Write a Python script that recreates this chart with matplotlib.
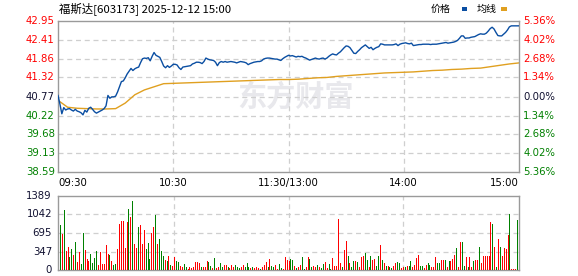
import matplotlib
matplotlib.use("Agg")
import matplotlib.pyplot as plt
from matplotlib.patches import Rectangle

plt.rcParams['font.family'] = ['DejaVu Sans', 'Noto Sans CJK SC']

# ---------------- data ----------------
title = "福斯达[603173] 2025-12-12 15:00"
prev_close = 40.77
price_ticks = [38.59, 39.13, 39.68, 40.22, 40.77, 41.32, 41.86, 42.41, 42.95]
pct_labels = ["5.36%", "4.02%", "2.68%", "1.34%", "0.00%", "1.34%", "2.68%", "4.02%", "5.36%"]
vol_ticks = [0, 347, 695, 1042, 1389]
time_labels = ["09:30", "10:30", "11:30/13:00", "14:00", "15:00"]
time_pos = [0, 60, 120, 180, 240]

price = [
    40.80, 40.55, 40.27, 40.45, 40.38, 40.41, 40.42, 40.38, 40.35, 40.40,
    40.35, 40.33, 40.30, 40.24, 40.37, 40.32, 40.43, 40.46, 40.40, 40.33,
    40.29, 40.32, 40.35, 40.38, 40.42, 40.50, 40.80, 40.72, 40.76, 40.76,
    40.78, 40.90, 41.05, 41.20, 41.22, 41.31, 41.42, 41.50, 41.58, 41.52,
    41.57, 41.60, 41.62, 41.75, 41.86, 41.88, 41.87, 41.89, 41.80, 41.93,
    42.04, 41.96, 41.93, 41.90, 41.78, 41.65, 41.60, 41.66, 41.61, 41.65,
    41.70, 41.70, 41.68, 41.60, 41.55, 41.62, 41.63, 41.64, 41.65, 41.66,
    41.71, 41.73, 41.76, 41.76, 41.75, 41.72, 41.78, 41.88, 41.85, 41.83,
    41.82, 41.81, 41.76, 41.66, 41.75, 41.78, 41.76, 41.78, 41.76, 41.77,
    41.78, 41.77, 41.76, 41.74, 41.76, 41.78, 41.77, 41.76, 41.74, 41.69,
    41.72, 41.74, 41.76, 41.77, 41.78, 41.78, 41.80, 41.85, 41.87, 41.88,
    41.88, 41.87, 41.86, 41.85, 41.85, 41.83, 41.81, 41.86, 41.90, 41.93,
    41.96, 41.94, 41.95, 41.93, 41.91, 41.93, 41.92, 41.93, 41.90, 41.88,
    41.85, 41.82, 41.84, 41.86, 41.88, 41.86, 41.85, 41.87, 41.88, 41.85,
    41.88, 41.93, 41.97, 42.00, 41.98, 41.97, 42.02, 42.06, 42.12, 42.18,
    42.23, 42.22, 42.18, 42.10, 42.02, 42.01, 42.07, 42.12, 42.18, 42.22,
    42.26, 42.21, 42.16, 42.19, 42.12, 42.16, 42.19, 42.21, 42.29, 42.28,
    42.26, 42.26, 42.26, 42.26, 42.26, 42.27, 42.29, 42.24, 42.28, 42.30,
    42.31, 42.32, 42.30, 42.29, 42.31, 42.24, 42.25, 42.26, 42.27, 42.27,
    42.28, 42.28, 42.28, 42.28, 42.27, 42.28, 42.28, 42.28, 42.29, 42.30,
    42.31, 42.32, 42.33, 42.31, 42.32, 42.33, 42.34, 42.36, 42.39, 42.45,
    42.52, 42.52, 42.45, 42.46, 42.46, 42.48, 42.49, 42.50, 42.53, 42.56,
    42.58, 42.57, 42.57, 42.60, 42.66, 42.73, 42.77, 42.72, 42.62, 42.53,
    42.52, 42.52, 42.57, 42.62, 42.69, 42.78, 42.81, 42.81, 42.81, 42.81,
    42.81,
]

# average price, sampled every 5 minutes
avg_minutes = list(range(0, 241, 5))
avg_price = [
    40.66, 40.46, 40.43, 40.42, 40.41, 40.41, 40.42, 40.58, 40.82, 40.96,
    41.05, 41.14, 41.15, 41.16, 41.17, 41.18, 41.19, 41.20, 41.21, 41.22,
    41.23, 41.24, 41.25, 41.26, 41.26, 41.27, 41.29, 41.31, 41.32, 41.35,
    41.37, 41.39, 41.41, 41.43, 41.45, 41.46, 41.47, 41.48, 41.50, 41.52,
    41.53, 41.55, 41.56, 41.58, 41.59, 41.63, 41.67, 41.71, 41.74,
]

volume = [
    845, 676, 1126, 363, 432, 244, 394, 282, 526, 150,
    338, 113, 695, 375, 206, 169, 300, 131, 225, 363,
    94, 338, 113, 113, 469, 300, 282, 169, 94, 113,
    394, 863, 920, 920, 413, 901, 1145, 995, 1290, 488,
    413, 807, 845, 488, 751, 394, 507, 206, 695, 807,
    1032, 488, 582, 357, 263, 188, 169, 263, 94, 75,
    244, 169, 150, 75, 56, 113, 56, 19, 56, 38,
    56, 150, 150, 131, 56, 56, 56, 169, 150, 75,
    38, 233, 40, 52, 130, 52, 97, 97, 52, 40,
    97, 52, 97, 52, 40, 52, 97, 52, 130, 52,
    32, 52, 32, 52, 40, 13, 52, 97, 142, 52,
    213, 78, 52, 97, 13, 116, 30, 13, 245, 194,
    168, 207, 194, 78, 30, 52, 97, 245, 13, 52,
    245, 207, 52, 78, 52, 97, 52, 30, 116, 142,
    32, 116, 13, 233, 78, 78, 956, 130, 60, 375,
    549, 258, 130, 52, 162, 162, 142, 52, 245, 271,
    310, 181, 52, 271, 181, 207, 78, 271, 465, 194,
    130, 78, 78, 52, 32, 78, 130, 142, 130, 40,
    52, 52, 78, 78, 162, 52, 97, 226, 290, 78,
    78, 32, 97, 130, 97, 65, 65, 245, 130, 130,
    181, 181, 194, 52, 162, 162, 207, 290, 407, 60,
    517, 517, 78, 245, 52, 245, 52, 162, 194, 194,
    433, 130, 258, 258, 258, 271, 904, 860, 433, 60,
    581, 433, 258, 420, 388, 659, 1053, 13, 20, 20,
    937,
]
vol_dir = (
    "GRGRRGGRGR" "RGGRRRGGGG" "RRRRRRGRGG" "RRRRRRGRGR" "RGRRRGGGRR"
    "GRGGGRGRGR" "RGGRRGGRRR" "RRRRGRRRGG" "RGRRGGRRGR" "RRGGGRRGGG"
    "RGRRRGRRRG" "RGGRRGGRRR" "RGGRGRRGGR" "RGGRRGRGGR" "RGGRRRRRGR"
    "RGRGGRGRRR" "GGRGRRGGRG" "RGRGGRRGGR" "RGRGGRRRRG" "GRRGGRRRGG"
    "RRGRGRRRGR" "RGGRGRRGRR" "GRRRRRRGRG" "RGRRRRGRRR" "G"
)

# ---------------- styling ----------------
RED = "#ff0000"
GREEN = "#008000"
DARK = "#101030"
BLUE = "#0a4ea2"
GOLD = "#e0a020"
FRAME = "#9a9a9a"
GRID = "#cfcfcf"

W, H = 578, 276
fig = plt.figure(figsize=(W / 100, H / 100), dpi=100)

def ax_rect(x0, y0, x1, y1):
    return [x0 / W, 1 - y1 / H, (x1 - x0) / W, (y1 - y0) / H]

axp = fig.add_axes(ax_rect(58, 21, 519, 172))
axv = fig.add_axes(ax_rect(58, 196, 519, 270))

minutes = list(range(len(price)))

# watermark
axp.text(0.515, 0.50, "东方财富", transform=axp.transAxes, ha="center", va="center",
         fontsize=21, fontweight="bold", color="#e8e8ec", family=["Noto Sans CJK SC"], zorder=0)

axp.plot(minutes, price, color=BLUE, lw=1.0, zorder=3)
axp.plot(avg_minutes, avg_price, color=GOLD, lw=1.0, zorder=2)
axp.set_xlim(0, 240)
axp.set_ylim(price_ticks[0], price_ticks[-1])

for ax in (axp, axv):
    ax.set_xticks([])
    ax.set_yticks([])
    for s in ax.spines.values():
        s.set_color(FRAME)
        s.set_linewidth(1.0)

for t in price_ticks[1:-1]:
    axp.axhline(t, color=GRID, lw=0.9, ls=(0, (4, 3)), zorder=1)
for m in time_pos[1:-1]:
    axp.axvline(m, color=GRID, lw=0.9, ls=(0, (4, 3)), zorder=1)

# price labels
for t, pl in zip(price_ticks, pct_labels):
    if t > prev_close + 1e-6:
        c = RED
    elif t < prev_close - 1e-6:
        c = GREEN
    else:
        c = DARK
    axp.text(-0.007, t, f"{t:.2f}", transform=axp.get_yaxis_transform(), ha="right", va="center",
             fontsize=7.3, color=c)
    axp.text(1.009, t, pl, transform=axp.get_yaxis_transform(), ha="left", va="center",
             fontsize=7.3, color=c)

# time labels
for m, lab in zip(time_pos, time_labels):
    ha = "center"
    if m == 0:
        ha = "left"
    elif m == 240:
        ha = "right"
    axp.text(m, -0.07, lab, transform=axp.get_xaxis_transform(), ha=ha, va="center",
             fontsize=7.3, color="black")

# volume
colors = [RED if d == "R" else GREEN for d in vol_dir]
axv.vlines(minutes, 0, volume, colors=colors, linewidth=0.45, antialiased=False, zorder=3)
axv.set_xlim(-1, 241)
axv.set_ylim(vol_ticks[0], vol_ticks[-1])
for t in vol_ticks[1:-1]:
    axv.axhline(t, color=GRID, lw=0.9, ls=(0, (4, 3)), zorder=1)
for m in time_pos[1:-1]:
    axv.axvline(m, color=GRID, lw=0.9, ls=(0, (4, 3)), zorder=1)
for t in vol_ticks:
    axv.text(-0.013, t, f"{t}", transform=axv.get_yaxis_transform(), ha="right", va="center",
             fontsize=7.3, color=DARK)

# title and legend
fig.text(59 / W, 1 - 9.5 / H, title, ha="left", va="center", fontsize=8.2,
         family=["Noto Sans CJK SC"], color="black")
fig.text(431 / W, 1 - 9 / H, "价格", ha="left", va="center", fontsize=7.2,
         family=["Noto Sans CJK SC"], color="black")
fig.text(477 / W, 1 - 9 / H, "均线", ha="left", va="center", fontsize=7.2,
         family=["Noto Sans CJK SC"], color="black")
fig.patches.append(Rectangle((462 / W, 1 - 10.5 / H), 5 / W, 3 / H, transform=fig.transFigure,
                             facecolor=BLUE, edgecolor="none"))
fig.patches.append(Rectangle((501 / W, 1 - 10.5 / H), 6 / W, 3 / H, transform=fig.transFigure,
                             facecolor=GOLD, edgecolor="none"))

fig.savefig("out.png", dpi=100)
